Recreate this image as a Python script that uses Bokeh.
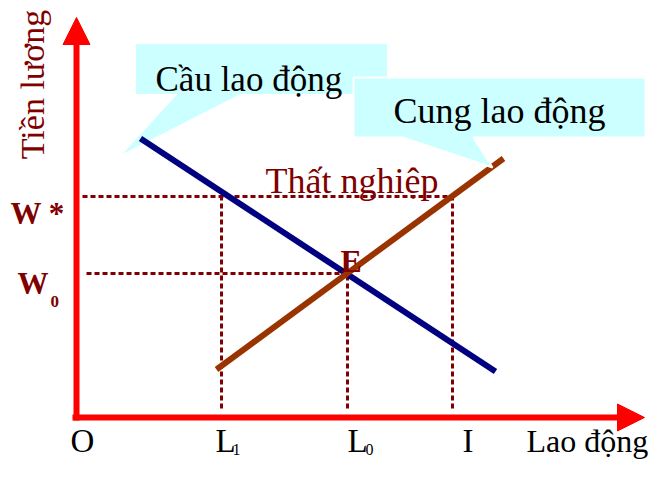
from bokeh.plotting import figure
from bokeh.models import Arrow, NormalHead, Range1d
from bokeh.core.properties import value
from bokeh.embed import file_html
from bokeh.resources import INLINE

# ---- data (labour market model, origin O = (0, 0)) ----
demand_x = [64, 419]
demand_y = [279, 46]
supply_x = [140, 427]
supply_y = [48, 259]

w_star = 221      # wage above equilibrium
w_zero = 144      # equilibrium wage W0
l_one = 145       # labour demanded at W*
l_zero = 271      # equilibrium labour L0
l_i = 376         # labour supplied at W*

x_tick_pos = [-6, 139, 271, 386, 450]
x_tick_labels = ["O", "L", "L", "I", "Lao động"]
x_tick_subs = ["", "1", "0", "", ""]

y_label = "Tiền lương"
demand_label = "Cầu lao động"
supply_label = "Cung lao động"
gap_label = "Thất nghiệp"
eq_label = "E"

SERIF = value("Liberation Serif")
DARKRED = "#800000"
RED = "#FF0000"
CYAN = "#CCFFFF"

p = figure(width=648, height=461, output_backend="svg", toolbar_location=None,
           x_range=Range1d(-76, 572), y_range=Range1d(-44, 417),
           x_axis_location=None, y_axis_location=None, min_border=0,
           outline_line_color=None, background_fill_color="white")
p.grid.visible = False

# callout 1 (demand)
c1x = [60, 310, 310, 164, 48, 102, 60]
c1y = [373, 373, 324, 324, 265, 324, 324]
p.patch(c1x, c1y, fill_color=CYAN, line_color=CYAN, line_width=1)

# dotted guide lines
dot = dict(line_color=DARKRED, line_width=3, line_dash="5 3")
p.line([6, l_i], [w_star, w_star], **dot)
p.line([10, l_zero], [w_zero, w_zero], **dot)
p.line([l_one, l_one], [9, w_star], **dot)
p.line([l_i, l_i], [9, w_star], **dot)
p.line([l_zero, l_zero], [9, w_zero], **dot)

# curves
p.line(demand_x, demand_y, line_color="#000080", line_width=6)
p.line(supply_x, supply_y, line_color="#993300", line_width=6)

# callout 2 (supply) with white border
c2x = [277, 569, 569, 397, 416, 326, 277]
c2y = [340, 340, 280, 280, 250, 280, 280]
p.patch(c2x, c2y, fill_color=CYAN, line_color="white", line_width=2)

# axes
p.add_layout(Arrow(x_start=0, y_start=-3, x_end=0, y_end=400, line_color=RED, line_width=6,
                   end=NormalHead(size=27, fill_color=RED, line_color=RED, line_width=1)))
p.add_layout(Arrow(x_start=-4, y_start=0, x_end=568, y_end=0, line_color=RED, line_width=6,
                   end=NormalHead(size=27, fill_color=RED, line_color=RED, line_width=1)))

# texts
p.text([79], [338], text=[demand_label], text_font=SERIF, text_font_size="35px",
       text_color="black", text_baseline="alphabetic")
p.text([317], [307], text=[supply_label], text_font=SERIF, text_font_size="36px",
       text_color="black", text_baseline="alphabetic")
p.text([189], [237], text=[gap_label], text_font=SERIF, text_font_size="36px",
       text_color=DARKRED, text_baseline="alphabetic")
p.text([264], [157], text=[eq_label], text_font=SERIF, text_font_size="32px",
       text_font_style="bold", text_color=DARKRED, text_baseline="alphabetic")
p.text([-66], [204], text=["W *"], text_font=SERIF, text_font_size="31px",
       text_font_style="bold", text_color=DARKRED, text_baseline="alphabetic")
p.text([-59], [134], text=["W"], text_font=SERIF, text_font_size="31px",
       text_font_style="bold", text_color=DARKRED, text_baseline="alphabetic")
p.text([-26], [116], text=["0"], text_font=SERIF, text_font_size="17px",
       text_font_style="bold", text_color=DARKRED, text_baseline="alphabetic")
p.text([-44], [333], text=[y_label], text_font=SERIF, text_font_size="34px",
       text_color=DARKRED, text_align="center", text_baseline="alphabetic", angle=1.5708)

p.text(x_tick_pos[:4], [-23] * 4, text=x_tick_labels[:4], text_font=SERIF,
       text_font_size="33px", text_color="black", text_baseline="alphabetic")
p.text([x_tick_pos[4]], [-23], text=[x_tick_labels[4]], text_font=SERIF,
       text_font_size="32px", text_color="black", text_baseline="alphabetic")
sub_x = [x_tick_pos[1] + 17, x_tick_pos[2] + 18]
p.text(sub_x, [-32, -32], text=[x_tick_subs[1], x_tick_subs[2]], text_font=SERIF,
       text_font_size="16px", text_color="black", text_baseline="alphabetic")

open("out.html", "w").write(file_html(p, INLINE))
